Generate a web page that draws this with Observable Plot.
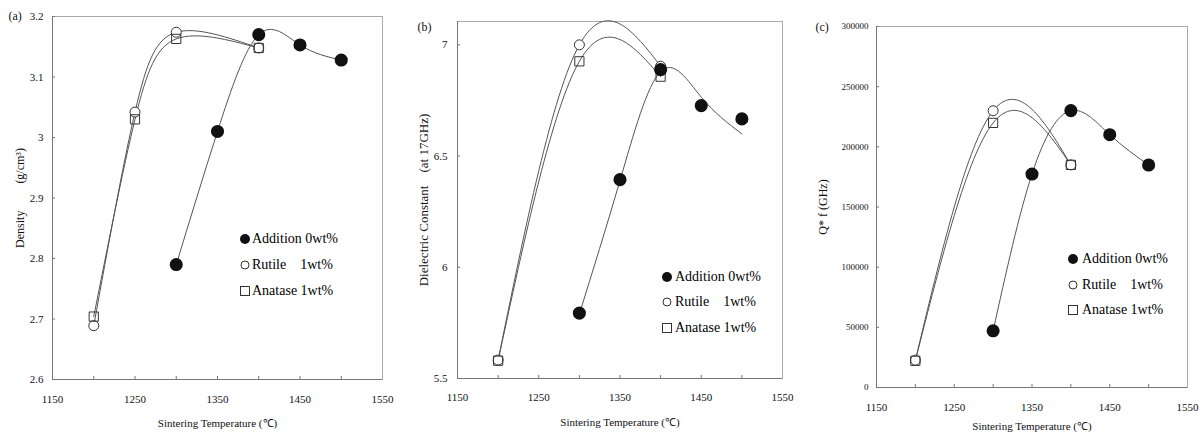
<!DOCTYPE html>
<html><head><meta charset="utf-8">
<script src="https://cdn.jsdelivr.net/npm/d3@7"></script>
<script src="https://cdn.jsdelivr.net/npm/@observablehq/plot@0.6"></script>
<style>
html,body{margin:0;padding:0;background:#fff;}
#wrap{position:relative;width:1202px;height:434px;overflow:hidden;font-family:"Liberation Serif","Times New Roman",serif;}
.panel{position:absolute;top:0;}
.legend-row{position:absolute;display:flex;align-items:center;height:16px;font-size:14px;color:#000;white-space:pre;line-height:16px;}
</style></head><body><div id="wrap"></div>
<script>
// ---- data ----
const xTicks = [1150, 1250, 1350, 1450, 1550];
const xMinor = [1200, 1250, 1300, 1350, 1400, 1450, 1500];
const tempAdd = [1300, 1350, 1400, 1450, 1500];
const tempDopA = [1200, 1250, 1300, 1400];
const tempDop = [1200, 1300, 1400];
const seriesNames = ["Addition 0wt%", "Rutile    1wt%", "Anatase 1wt%"];
const xTitle = "Sintering Temperature (\u2103)";

// (a) density
const densAdd = [2.79, 3.01, 3.17, 3.153, 3.128];
const densRut = [2.689, 3.042, 3.174, 3.148];
const densAna = [2.704, 3.03, 3.163, 3.148];
const densTicks = [2.6, 2.7, 2.8, 2.9, 3, 3.1, 3.2];

// (b) dielectric constant
const dielAdd = [5.794, 6.394, 6.889, 6.727, 6.667];
const dielAddTrend = [5.79, 6.39, 6.88, 6.765, 6.60];
const dielRut = [5.583, 7.0, 6.904];
const dielAna = [5.58, 6.926, 6.857];
const dielTicks = [5.5, 6, 6.5, 7];

// (c) Q*f
const qfAdd = [47100, 177400, 230100, 210100, 184900];
const qfRut = [22700, 230000, 185000];
const qfAna = [22200, 219900, 185000];
const qfTicks = [0, 50000, 100000, 150000, 200000, 250000, 300000];

const rows = (xs, ys) => xs.map((t, i) => ({t, v: ys[i]}));
const wrap = document.getElementById("wrap");

function panel(c) {
  const innerW = c.width - c.ml - c.mr;
  const innerH = 434 - c.mt - c.mb;
  const lineStyle = {x: "t", y: "v", curve: "natural", stroke: "#555", strokeWidth: 1};
  const chart = Plot.plot({
    width: c.width, height: 434,
    marginLeft: c.ml, marginRight: c.mr, marginTop: c.mt, marginBottom: c.mb,
    style: {fontFamily: "Liberation Serif, Times New Roman, serif", fontSize: "11px", color: "#111", background: "transparent", overflow: "visible"},
    x: {domain: [1150, 1550]},
    y: {domain: c.yDomain},
    marks: [
      Plot.frame({stroke: "#aaa"}),
      Plot.ruleY([c.yDomain[0]], {stroke: "#777"}),
      Plot.ruleX([1150], {stroke: "#777"}),
      Plot.tickX(xMinor, {x: d => d, insetTop: innerH - 3, stroke: "#777"}),
      Plot.tickY(c.yTicks, {y: d => d, insetRight: innerW - 3, stroke: "#777"}),
      Plot.line(rows(c.addX, c.addLine), lineStyle),
      Plot.line(rows(c.dopX, c.rut), lineStyle),
      Plot.line(rows(c.dopX, c.ana), lineStyle),
      Plot.dot(rows(c.dopX, c.rut), {x: "t", y: "v", r: 5, fill: "white", stroke: "#333", strokeWidth: 1}),
      Plot.dot(rows(c.dopX, c.ana), {x: "t", y: "v", symbol: "square", r: 5.2, fill: "none", stroke: "#333", strokeWidth: 1}),
      Plot.dot(rows(c.addX, c.add), {x: "t", y: "v", r: 5.8, fill: "#111", stroke: "#111"}),
      Plot.axisX({ticks: xTicks, tickSize: 0, tickPadding: c.padX, tickFormat: d => String(d), label: null, fontSize: 11}),
      Plot.axisY({ticks: c.yTicks, tickSize: 0, tickPadding: c.padY, tickFormat: d => String(d), label: null, fontSize: c.yFont}),
      Plot.text([xTitle], {frameAnchor: "bottom", dy: c.xTitleDy, textAnchor: "middle", lineAnchor: "middle", fontSize: 11}),
      Plot.text([c.yTitle], {frameAnchor: "left", dx: c.yTitleDx, rotate: -90, textAnchor: "middle", lineAnchor: "middle", fontSize: c.yTitleSize}),
      Plot.text([c.letter], {frameAnchor: "top-left", dx: c.letterDx, dy: c.letterDy, textAnchor: "start", lineAnchor: "middle", fontSize: 12})
    ]
  });
  chart.classList.add("panel");
  chart.style.left = c.left + "px";
  wrap.appendChild(chart);

  // legend
  const markers = [
    '<circle cx="6" cy="6" r="5" fill="#111"/>',
    '<circle cx="6" cy="6" r="4" fill="white" stroke="#333" stroke-width="1"/>',
    '<rect x="1.5" y="1.5" width="9" height="9" fill="white" stroke="#333" stroke-width="1"/>'
  ];
  seriesNames.forEach((name, i) => {
    const row = document.createElement("div");
    row.className = "legend-row";
    row.style.left = (c.leg.x - 6) + "px";
    row.style.top = (c.leg.y[i] - 8) + "px";
    row.innerHTML = `<svg width="12" height="12" style="flex:none">${markers[i]}</svg><span style="margin-left:${c.leg.gap}px">${name}</span>`;
    wrap.appendChild(row);
  });
}

panel({
  left: 0, width: 400, ml: 52, mr: 18, mt: 16, mb: 55,
  yDomain: [2.6, 3.2], yTicks: densTicks, yFont: 11, padX: 16, padY: 9,
  add: densAdd, addLine: densAdd, addX: tempAdd, rut: densRut, ana: densAna, dopX: tempDopA,
  xTitleDy: 44, yTitle: "Density\u00a0\u00a0\u00a0\u00a0\u00a0\u00a0\u00a0\u00a0\u00a0(g/cm\u00b3)", yTitleDx: -32, yTitleSize: 12,
  letter: "(a)", letterDx: -44, letterDy: 0,
  leg: {x: 245, y: [239, 265, 291], gap: 1}
});

panel({
  left: 400, width: 400, ml: 57, mr: 18, mt: 21, mb: 56,
  yDomain: [5.5, 7.105], yTicks: dielTicks, yFont: 11, padX: 15, padY: 10,
  add: dielAdd, addLine: dielAddTrend, addX: tempAdd, rut: dielRut, ana: dielAna, dopX: tempDop,
  xTitleDy: 44, yTitle: "Dielectric Constant\u00a0\u00a0\u00a0\u00a0(at 17GHz)", yTitleDx: -34, yTitleSize: 13,
  letter: "(b)", letterDx: -40, letterDy: 6,
  leg: {x: 667, y: [277, 302, 328], gap: 2}
});

panel({
  left: 800, width: 402, ml: 76, mr: 15, mt: 26, mb: 47,
  yDomain: [0, 300000], yTicks: qfTicks, yFont: 9, padX: 16, padY: 8,
  add: qfAdd, addLine: qfAdd, addX: tempAdd, rut: qfRut, ana: qfAna, dopX: tempDop,
  xTitleDy: 39, yTitle: "Q* f (GHz)", yTitleDx: -53, yTitleSize: 12,
  letter: "(c)", letterDx: -61, letterDy: 1,
  leg: {x: 1073, y: [259, 285, 310], gap: 3}
});
</script>
</body></html>
